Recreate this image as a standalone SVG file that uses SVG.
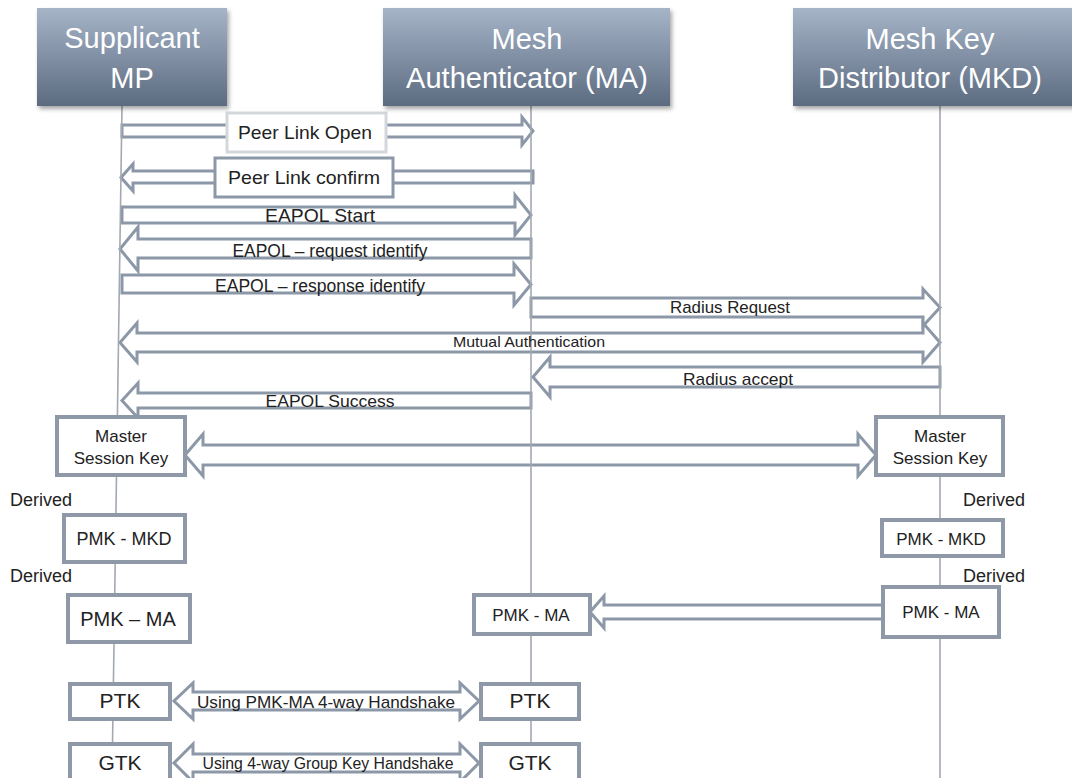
<svg xmlns="http://www.w3.org/2000/svg" width="1072" height="778" viewBox="0 0 1072 778">
  <defs>
    <linearGradient id="hdrFill" x1="0" y1="0" x2="0" y2="1">
      <stop offset="0" stop-color="#a5b4c7"/>
      <stop offset="1" stop-color="#5c6b80"/>
    </linearGradient>
    <filter id="hdrShadow" x="-10%" y="-10%" width="125%" height="130%">
      <feDropShadow dx="2" dy="3" stdDeviation="2.2" flood-color="#000" flood-opacity="0.35"/>
    </filter>
  </defs>
  <style>
    .hdr { fill: url(#hdrFill); filter: url(#hdrShadow); }
    .hdrText { font-family: "Liberation Sans", Arial, sans-serif; font-size: 29px; fill: #ffffff; text-anchor: middle; }
    .life { stroke: #a3a9b1; stroke-width: 1.6; fill: none; }
    .arrow { fill: #ffffff; stroke: #8c97a7; stroke-width: 3; stroke-linejoin: miter; }
    .box { fill: #ffffff; stroke: #8e98a7; stroke-width: 4; }
    .tag1 { fill: #ffffff; stroke: #d3d7db; stroke-width: 3; }
    .tag2 { fill: #ffffff; stroke: #8c97a7; stroke-width: 3; }
    .lbl { font-family: "Liberation Sans", Arial, sans-serif; fill: #222222; text-anchor: middle; }
    .side { font-family: "Liberation Sans", Arial, sans-serif; font-size: 18px; fill: #222222; }
  </style>

  <rect width="1072" height="778" fill="#ffffff"/>

  <!-- message arrows (hollow block arrows) -->
  <g id="connectors">
    <!-- Peer Link Open -->
    <path class="arrow" d="M122,125 L522,125 L522,117 L533,131 L522,145 L522,137 L122,137 Z"/>
    <!-- Peer Link confirm -->
    <path class="arrow" d="M533,171 L133,171 L133,164 L121,177.5 L133,191 L133,183 L533,183 Z"/>
    <!-- EAPOL Start -->
    <path class="arrow" d="M122,207 L515,207 L515,195 L531,215 L515,235 L515,223 L122,223 Z"/>
    <!-- EAPOL request identify -->
    <path class="arrow" d="M531,239 L138,239 L138,227 L120,249 L138,271 L138,258 L531,258 Z"/>
    <!-- EAPOL response identify -->
    <path class="arrow" d="M122,275 L514,275 L514,264 L531,284.5 L514,305 L514,293 L122,293 Z"/>
    <!-- Radius Request -->
    <path class="arrow" d="M531,298 L923,298 L923,289 L940,307.5 L923,326 L923,317 L531,317 Z"/>
    <!-- Mutual Authentication -->
    <path class="arrow" d="M137,333 L923,333 L923,323 L940,342.5 L923,362 L923,352 L137,352 L137,362 L120,342.5 L137,323 Z"/>
    <!-- Radius accept -->
    <path class="arrow" d="M940,367 L550,367 L550,357 L533,377 L550,397 L550,387 L940,387 Z"/>
    <!-- EAPOL Success -->
    <path class="arrow" d="M531,393 L138,393 L138,383 L122,400.5 L138,418 L138,408 L531,408 Z"/>
    <!-- Master Session Key exchange -->
    <path class="arrow" d="M203,445 L858,445 L858,434 L876,455 L858,476 L858,465 L203,465 L203,476 L185,455 L203,434 Z"/>
    <!-- PMK-MA delivery -->
    <path class="arrow" d="M883,605 L604,605 L604,596 L590,612 L604,628 L604,619 L883,619 Z"/>
    <!-- PTK handshake -->
    <path class="arrow" d="M193,692 L460,692 L460,683 L479,701 L460,719 L460,710 L193,710 L193,719 L174,701 L193,683 Z"/>
    <!-- GTK handshake -->
    <path class="arrow" d="M193,754 L460,754 L460,744 L479,763 L460,782 L460,772 L193,772 L193,782 L174,763 L193,744 Z"/>
  </g>

  <!-- lifelines -->
  <g id="lifelines">
    <line class="life" x1="122" y1="106" x2="112" y2="778"/>
    <line class="life" x1="531" y1="106" x2="531" y2="778"/>
    <line class="life" x1="940" y1="106" x2="940" y2="778"/>
  </g>

  <!-- arrow labels -->
  <g id="labels">
    <g id="tag-peer-open">
      <rect class="tag1" x="227" y="113" width="159" height="39"/>
      <text class="lbl" x="305" y="139" font-size="19" textLength="134" lengthAdjust="spacingAndGlyphs">Peer Link Open</text>
    </g>
    <g id="tag-peer-confirm">
      <rect class="tag2" x="215" y="158" width="178" height="39"/>
      <text class="lbl" x="304" y="184" font-size="19" textLength="152" lengthAdjust="spacingAndGlyphs">Peer Link confirm</text>
    </g>
    <text class="lbl" x="320" y="222" font-size="19" textLength="110" lengthAdjust="spacingAndGlyphs">EAPOL Start</text>
    <text class="lbl" x="330" y="257" font-size="18" textLength="195" lengthAdjust="spacingAndGlyphs">EAPOL – request identify</text>
    <text class="lbl" x="320" y="292" font-size="18" textLength="210" lengthAdjust="spacingAndGlyphs">EAPOL – response identify</text>
    <text class="lbl" x="730" y="313" font-size="17" textLength="120" lengthAdjust="spacingAndGlyphs">Radius Request</text>
    <text class="lbl" x="529" y="347" font-size="15" textLength="152" lengthAdjust="spacingAndGlyphs">Mutual Authentication</text>
    <text class="lbl" x="738" y="385" font-size="17" textLength="110" lengthAdjust="spacingAndGlyphs">Radius accept</text>
    <text class="lbl" x="330" y="407" font-size="17" textLength="129" lengthAdjust="spacingAndGlyphs">EAPOL Success</text>
    <text class="lbl" x="326" y="708" font-size="17" textLength="258" lengthAdjust="spacingAndGlyphs">Using PMK-MA 4-way  Handshake</text>
    <text class="lbl" x="328" y="769" font-size="17" textLength="251" lengthAdjust="spacingAndGlyphs">Using 4-way Group Key Handshake</text>
  </g>

  <!-- participants -->
  <g id="supplicant-mp">
    <rect class="hdr" x="37" y="8" width="190" height="98"/>
    <text class="hdrText" x="132" y="48">Supplicant</text>
    <text class="hdrText" x="132" y="88">MP</text>
  </g>
  <g id="mesh-authenticator">
    <rect class="hdr" x="383" y="8" width="287" height="98"/>
    <text class="hdrText" x="527" y="49">Mesh</text>
    <text class="hdrText" x="527" y="88">Authenticator (MA)</text>
  </g>
  <g id="mesh-key-distributor">
    <rect class="hdr" x="793" y="8" width="290" height="98"/>
    <text class="hdrText" x="930" y="49">Mesh Key</text>
    <text class="hdrText" x="930" y="88">Distributor (MKD)</text>
  </g>

  <!-- key boxes: supplicant side -->
  <g id="msk-left">
    <rect class="box" x="57" y="417" width="128" height="58"/>
    <text class="lbl" x="121" y="442" font-size="17">Master</text>
    <text class="lbl" x="121" y="464" font-size="17">Session Key</text>
  </g>
  <text class="side" x="10" y="506">Derived</text>
  <g id="pmk-mkd-left">
    <rect class="box" x="64" y="515" width="121" height="47"/>
    <text class="lbl" x="124" y="545" font-size="18">PMK - MKD</text>
  </g>
  <text class="side" x="10" y="582">Derived</text>
  <g id="pmk-ma-left">
    <rect class="box" x="68" y="595" width="122" height="47"/>
    <text class="lbl" x="128" y="626" font-size="20">PMK – MA</text>
  </g>
  <g id="ptk-left">
    <rect class="box" x="70" y="684" width="100" height="35"/>
    <text class="lbl" x="120" y="708" font-size="21">PTK</text>
  </g>
  <g id="gtk-left">
    <rect class="box" x="70" y="744" width="100" height="36"/>
    <text class="lbl" x="120" y="770" font-size="21">GTK</text>
  </g>

  <!-- key boxes: authenticator side -->
  <g id="pmk-ma-mid">
    <rect class="box" x="474" y="595" width="116" height="39"/>
    <text class="lbl" x="531" y="621" font-size="17">PMK - MA</text>
  </g>
  <g id="ptk-right">
    <rect class="box" x="481" y="684" width="98" height="35"/>
    <text class="lbl" x="530" y="708" font-size="21">PTK</text>
  </g>
  <g id="gtk-right">
    <rect class="box" x="481" y="744" width="98" height="36"/>
    <text class="lbl" x="530" y="770" font-size="21">GTK</text>
  </g>

  <!-- key boxes: distributor side -->
  <g id="msk-right">
    <rect class="box" x="876" y="417" width="127" height="58"/>
    <text class="lbl" x="940" y="442" font-size="17">Master</text>
    <text class="lbl" x="940" y="464" font-size="17">Session Key</text>
  </g>
  <text class="side" x="963" y="506">Derived</text>
  <g id="pmk-mkd-right">
    <rect class="box" x="882" y="520" width="121" height="36"/>
    <text class="lbl" x="941" y="545" font-size="17">PMK - MKD</text>
  </g>
  <text class="side" x="963" y="582">Derived</text>
  <g id="pmk-ma-right">
    <rect class="box" x="883" y="587" width="116" height="50"/>
    <text class="lbl" x="941" y="618" font-size="17">PMK - MA</text>
  </g>
</svg>
